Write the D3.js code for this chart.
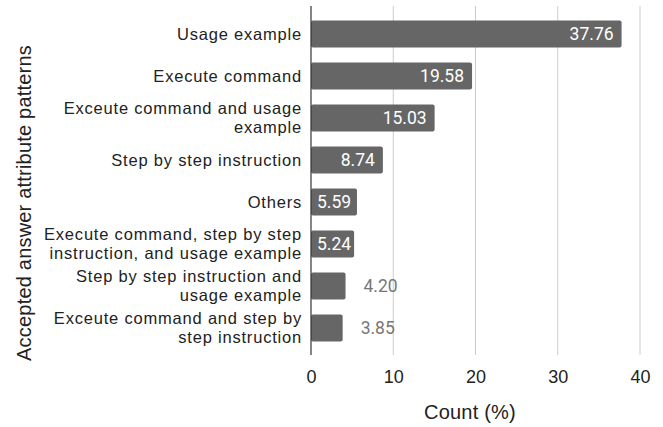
<!DOCTYPE html>
<html>
<head>
<meta charset="utf-8">
<script src="https://cdn.jsdelivr.net/npm/d3@7"></script>
<style>
  body { margin: 0; background: #fff; }
  svg { display: block; }
  .cat { font-family: "Liberation Sans", Arial, sans-serif; font-size: 16.5px; letter-spacing: 0.8px; fill: #222; }
  .tick text { font-family: "Liberation Sans", Arial, sans-serif; font-size: 18px; fill: #222; }
  .val { font-family: Roboto, sans-serif; font-size: 17.5px; }
  .title { font-family: "Liberation Sans", Arial, sans-serif; font-size: 20px; letter-spacing: 0.2px; fill: #222; }
</style>
</head>
<body>
<div class="plot"></div>
<script>
var categories = [
  ["Usage example"],
  ["Execute command"],
  ["Exceute command and usage", "example"],
  ["Step by step instruction"],
  ["Others"],
  ["Execute command, step by step", "instruction, and usage example"],
  ["Step by step instruction and", "usage example"],
  ["Exceute command and step by", "step instruction"]
];
var values = [37.76, 19.58, 15.03, 8.74, 5.59, 5.24, 4.20, 3.85];
var xTicks = [0, 10, 20, 30, 40];

var W = 663, H = 427;
var m = {t: 13, r: 23, b: 78, l: 311};
var w = W - m.l - m.r, h = H - m.t - m.b;

var svg = d3.select('.plot').append('svg').attr('width', W).attr('height', H);
var g = svg.append('g').attr('transform', 'translate(' + m.l + ',' + m.t + ')');

var x = d3.scaleLinear().domain([0, 40]).range([0, 329]);
var y = d3.scaleBand().domain(d3.range(values.length)).range([0, h]).paddingInner(0.36).paddingOuter(0.18);

// grid
g.selectAll('.grid').data(xTicks.slice(1)).enter().append('line')
  .attr('x1', function(d) { return x(d); }).attr('x2', function(d) { return x(d); })
  .attr('y1', -7).attr('y2', h + 6)
  .attr('stroke', '#ccc').attr('stroke-width', 1);

// bars
g.selectAll('.bar').data(values).enter().append('rect')
  .attr('x', 0)
  .attr('y', function(d, i) { return y(i); })
  .attr('width', function(d) { return x(d); })
  .attr('height', y.bandwidth())
  .attr('rx', 2)
  .attr('fill', '#666');

// value labels
g.selectAll('.val').data(values).enter().append('text')
  .attr('class', 'val')
  .attr('y', function(d, i) { return y(i) + y.bandwidth() / 2; })
  .attr('dy', '0.36em')
  .attr('text-anchor', 'end')
  .each(function(d) {
    var t = d3.select(this).text(d.toFixed(2));
    var tw = this.getComputedTextLength();
    var inside = x(d) > 40;
    if (inside) {
      t.attr('x', Math.max(x(d) - 8, 6 + tw)).attr('fill', '#fff');
    } else {
      t.attr('x', x(d) + 18 + tw).attr('fill', '#777');
    }
  });

// y axis line
g.append('line').attr('x1', 0).attr('x2', 0).attr('y1', -7).attr('y2', h + 6)
  .attr('stroke', '#333').attr('stroke-width', 1.2);

// category labels
var lh = 19;
g.selectAll('.cat').data(categories).enter().append('text')
  .attr('class', 'cat')
  .attr('text-anchor', 'end')
  .attr('transform', function(d, i) { return 'translate(-9,' + (y(i) + y.bandwidth() / 2) + ')'; })
  .each(function(d) {
    var t = d3.select(this);
    d.forEach(function(line, k) {
      t.append('tspan').attr('x', 0)
        .attr('y', (k - (d.length - 1) / 2) * lh)
        .attr('dy', '0.35em')
        .text(line);
    });
  });

// x axis
var xa = g.append('g').attr('transform', 'translate(0,' + (h + 6) + ')')
  .call(d3.axisBottom(x).tickValues(xTicks).tickSize(0).tickPadding(15));
xa.select('.domain').remove();

svg.append('text').attr('class', 'title')
  .attr('x', 470).attr('y', 419)
  .attr('text-anchor', 'middle').text('Count (%)');

svg.append('text').attr('class', 'title')
  .attr('transform', 'translate(31,203) rotate(-90)')
  .attr('text-anchor', 'middle').text('Accepted answer attribute patterns');
</script>
</body>
</html>
